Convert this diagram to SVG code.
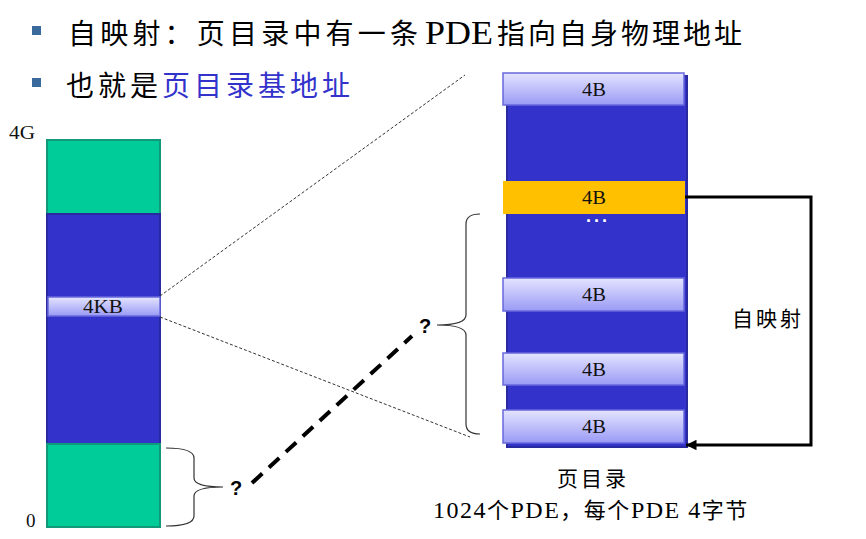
<svg xmlns="http://www.w3.org/2000/svg" width="866" height="539" viewBox="0 0 866 539">
<defs>
<linearGradient id="lg" x1="0" y1="0" x2="0" y2="1">
<stop offset="0" stop-color="#E4E4FF"/>
<stop offset="1" stop-color="#9A9AF6"/>
</linearGradient>
<marker id="ah" viewBox="0 0 10 10" refX="10" refY="5" markerWidth="4" markerHeight="3.5" orient="auto" markerUnits="strokeWidth">
<path d="M0,0 L10,5 L0,10 z" fill="#000"/>
</marker>
<style>
.t{font-family:"Liberation Serif","Noto Sans CJK SC",serif;fill:#000}
.s{font-family:"Liberation Sans","Noto Sans CJK SC",sans-serif;fill:#000}
.lab{font-family:"Liberation Serif",serif;fill:#111;font-size:18px}
.green{fill:#00CC99;stroke:#12997A;stroke-width:2}
.blue{fill:#3333CC;stroke:#2A2AA0;stroke-width:2}
.cell{fill:url(#lg);stroke:#6868DC;stroke-width:1.5}
.dot{fill:none;stroke:#333;stroke-width:1;stroke-dasharray:3 2}
.brace{fill:none;stroke:#333;stroke-width:1.2}
</style>
</defs>
<rect width="866" height="539" fill="#fff"/>
<g id="title">
<rect x="32" y="26" width="9" height="9" fill="#3A6A9C"/>
<rect x="32" y="78" width="9" height="9" fill="#3A6A9C"/>
<text class="t" y="44" font-size="28"><tspan x="68" letter-spacing="4.2">自映射：页目录中有一条</tspan><tspan x="425" font-size="34" textLength="68" lengthAdjust="spacingAndGlyphs">PDE</tspan><tspan x="497" letter-spacing="3">指向自身物理地址</tspan></text>
<text class="t" x="66" y="96" font-size="28" letter-spacing="4">也就是<tspan fill="#3333CC">页目录基地址</tspan></text>
</g>
<g id="memory">
<rect class="green" x="47" y="140" width="113" height="74"/>
<rect class="blue" x="47" y="214" width="113" height="230"/>
<rect class="green" x="47" y="444" width="113" height="83"/>
<text class="lab" x="9" y="139" style="font-size:19px" textLength="26" lengthAdjust="spacingAndGlyphs">4G</text>
<text class="lab" x="26" y="527" style="font-size:19px">0</text>
</g>
<g id="page4kb">
<rect class="cell" x="48" y="297" width="112" height="19"/>
<text class="lab" x="83" y="313" textLength="40" lengthAdjust="spacingAndGlyphs">4KB</text>
</g>
<g id="pagedir">
<rect class="blue" x="507" y="76" width="180" height="371"/>
<rect class="cell" x="503" y="73" width="181" height="32"/>
<text class="lab" x="582" y="96" textLength="24" lengthAdjust="spacingAndGlyphs">4B</text>
<rect x="503" y="181" width="182" height="33" fill="#FFC000"/>
<text class="lab" x="582" y="204" textLength="24" lengthAdjust="spacingAndGlyphs">4B</text>
<text class="s" x="586" y="227" font-size="18" font-weight="bold" letter-spacing="2" style="fill:#fff">···</text>
<rect class="cell" x="503" y="278" width="181" height="33"/>
<text class="lab" x="582" y="301" textLength="24" lengthAdjust="spacingAndGlyphs">4B</text>
<rect class="cell" x="503" y="353" width="181" height="32"/>
<text class="lab" x="582" y="376" textLength="24" lengthAdjust="spacingAndGlyphs">4B</text>
<rect class="cell" x="503" y="410" width="181" height="33"/>
<text class="lab" x="582" y="433" textLength="24" lengthAdjust="spacingAndGlyphs">4B</text>
<text class="t" x="557" y="486" font-size="21" letter-spacing="3">页目录</text>
<text class="t" x="433" y="518" font-size="22" letter-spacing="1.5"><tspan font-size="24">1024</tspan>个<tspan font-size="24">PDE</tspan>，每个<tspan font-size="24">PDE 4</tspan>字节</text>
</g>
<g id="labels">
<text class="s" x="236" y="495" font-size="20" text-anchor="middle" font-weight="bold">?</text>
<text class="s" x="425" y="333" font-size="20" text-anchor="middle" font-weight="bold">?</text>
<text class="t" x="732" y="326" font-size="21" letter-spacing="3">自映射</text>
</g>
<g id="connectors">
<line class="dot" x1="160" y1="296" x2="465" y2="75"/>
<line class="dot" x1="160" y1="317" x2="470" y2="437"/>
<path class="brace" d="M166,448 Q194,448 194,458 L194,478 Q194,487 223,487 Q194,487 194,496 L194,516 Q194,526 166,526"/>
<path class="brace" d="M480,214 Q466,214 466,224 L466,315 Q466,325 437,325 Q466,325 466,335 L466,424 Q466,434 480,434"/>
<line x1="252" y1="483" x2="412" y2="336" stroke="#000" stroke-width="4" stroke-dasharray="14 9"/>
<path d="M685,197 L811,197 L811,445 L686,445" fill="none" stroke="#000" stroke-width="3" marker-end="url(#ah)"/>
</g>
</svg>
